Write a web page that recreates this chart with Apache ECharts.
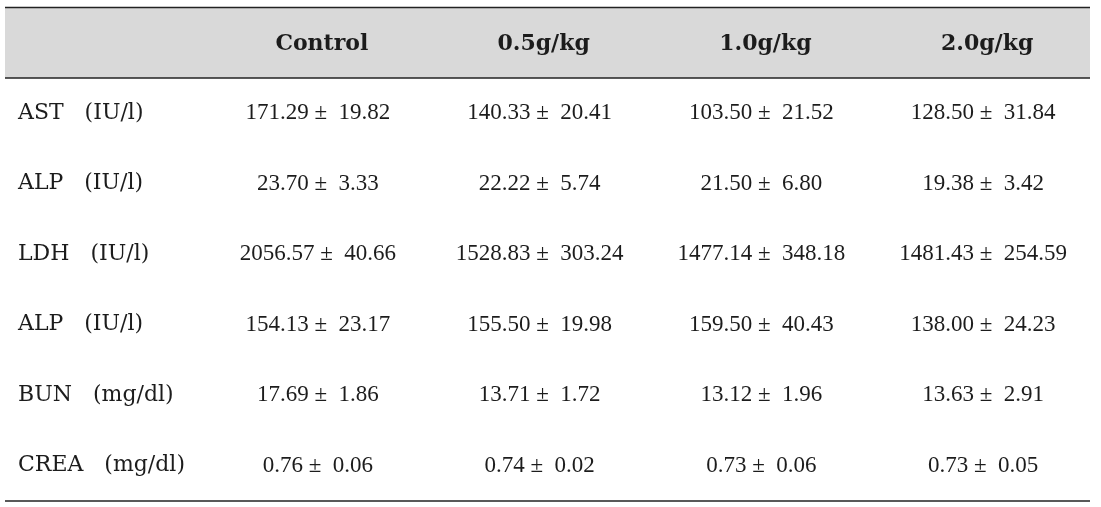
<!DOCTYPE html>
<html>
<head>
<meta charset="utf-8">
<script src="https://cdn.jsdelivr.net/npm/echarts@6/dist/echarts.min.js"></script>
<style>
    html, body { margin: 0; padding: 0; background: #fff; }
    #chart { width: 1101px; height: 507px; }
</style>
</head>
<body>
<div id="chart"></div>
<script>
// table content
const groups = ['Control', '0.5g/kg', '1.0g/kg', '2.0g/kg'];
const params = ['AST', 'ALP', 'LDH', 'ALP', 'BUN', 'CREA'];
const units = ['(IU/l)', '(IU/l)', '(IU/l)', '(IU/l)', '(mg/dl)', '(mg/dl)'];
const means = [
    [171.29, 140.33, 103.50, 128.50],
    [23.70, 22.22, 21.50, 19.38],
    [2056.57, 1528.83, 1477.14, 1481.43],
    [154.13, 155.50, 159.50, 138.00],
    [17.69, 13.71, 13.12, 13.63],
    [0.76, 0.74, 0.73, 0.73]
];
const sds = [
    [19.82, 20.41, 21.52, 31.84],
    [3.33, 5.74, 6.80, 3.42],
    [40.66, 303.24, 348.18, 254.59],
    [23.17, 19.98, 40.43, 24.23],
    [1.86, 1.72, 1.96, 2.91],
    [0.06, 0.02, 0.06, 0.05]
];

const TABLE_LEFT = 5;
const TABLE_RIGHT = 1090;
const LABEL_X = 18;
const textColor = '#1c1c1c';
const lineColor = '#222';
const headerBg = '#d9d9d9';

const rowKeys = ['head'].concat(params.map((p, i) => 'r' + i));

// one entry per table cell
const cells = [];
groups.forEach((g, c) => cells.push({ col: c, row: 0, text: g, kind: 'head' }));
params.forEach((p, r) => {
    cells.push({ col: -1, row: r + 1, text: p + '   ' + units[r], kind: 'label' });
    groups.forEach((g, c) => {
        cells.push({
            col: c,
            row: r + 1,
            text: means[r][c].toFixed(2) + ' \u00b1  ' + sds[r][c].toFixed(2),
            kind: 'value'
        });
    });
});

const fonts = {
    head: 'bold 22px "DejaVu Serif"',
    label: '22px "DejaVu Serif"',
    value: '23px "Liberation Serif"'
};

function renderFrame(params, api) {
    const band = api.size([0, 1])[1];
    const headY = api.coord([0, 0])[1];
    const lastY = api.coord([0, rowKeys.length - 1])[1];
    const top = headY - band / 2;
    const headBottom = headY + band / 2;
    const bottom = lastY + band / 2;
    const line = (y) => ({
        type: 'line',
        shape: { x1: TABLE_LEFT, y1: y, x2: TABLE_RIGHT, y2: y },
        style: { stroke: lineColor, lineWidth: 1.5 }
    });
    return {
        type: 'group',
        children: [
            {
                type: 'rect',
                shape: { x: TABLE_LEFT, y: top, width: TABLE_RIGHT - TABLE_LEFT, height: band },
                style: { fill: headerBg }
            },
            line(top),
            line(headBottom),
            line(bottom)
        ]
    };
}

function renderCell(params, api) {
    const cell = cells[params.dataIndex];
    const pt = api.coord([Math.max(cell.col, 0), cell.row]);
    const isHead = cell.kind === 'head';
    const x = cell.col < 0 ? LABEL_X : pt[0] + (isHead ? 4 : 0);
    return {
        type: 'text',
        x: x,
        y: pt[1] + (isHead ? 2 : 0),
        style: {
            text: cell.text,
            font: fonts[cell.kind],
            fill: textColor,
            align: cell.col < 0 ? 'left' : 'center',
            verticalAlign: 'middle'
        }
    };
}

const chart = echarts.init(document.getElementById('chart'));
chart.setOption({
    animation: false,
    grid: { left: 207, right: 7, top: 7.5, bottom: 6 },
    xAxis: {
        type: 'category',
        data: groups,
        show: false
    },
    yAxis: {
        type: 'category',
        data: rowKeys,
        inverse: true,
        show: false
    },
    series: [
        {
            type: 'custom',
            silent: true,
            renderItem: renderFrame,
            data: [[0, 0]],
            z: 1
        },
        {
            type: 'custom',
            silent: true,
            renderItem: renderCell,
            data: cells.map(c => [Math.max(c.col, 0), c.row]),
            z: 2
        }
    ]
});
</script>
</body>
</html>
